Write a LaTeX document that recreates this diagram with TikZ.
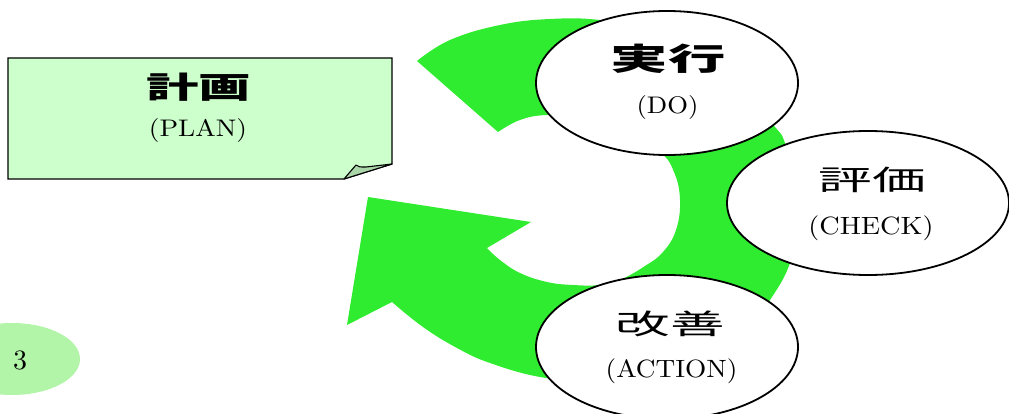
\documentclass[tikz,border=0pt]{standalone}
\usepackage{fontspec}
\usepackage{graphicx}
\usetikzlibrary{shapes.geometric}
\newfontfamily\cjk{Noto Sans CJK JP}
\newfontfamily\latn{lmroman10-regular}[Extension=.otf]
\definecolor{arrowgreen}{RGB}{48,236,48}
\definecolor{plangreen}{RGB}{204,255,204}
\definecolor{foldgreen}{RGB}{170,214,170}
\definecolor{pagegreen}{RGB}{178,245,168}
\begin{document}
\begin{tikzpicture}[x=1pt,y=-1pt,
  stage/.style={ellipse, draw=black, line width=1.8pt, fill=white,
    minimum width=262pt, minimum height=144pt, inner sep=0pt},
  txt/.style={inner sep=0pt}]
\useasboundingbox (0,0) rectangle (1009,414);

% PLAN sheet with folded corner
\filldraw[fill=plangreen, draw=black, line width=1.2pt]
  (8,58) -- (392,58) -- (392,164) -- (344,179) -- (8,179) -- cycle;
\filldraw[fill=foldgreen, draw=black, line width=1.1pt, line join=round]
  (344,179) -- (356,165) .. controls (359,167) .. (366,167) -- (392,164) -- cycle;
\node[txt] (planK) at (198.5,87.5) {\fontsize{30}{32}\selectfont\cjk\bfseries\scalebox{1.75}[1]{計画}};
\node[txt] (planL) at (198,131) {\latn\fontsize{24}{26}\selectfont\scalebox{1.14}[1]{(PLAN)}};

% circular green arrow
\fill[arrowgreen] (417,61) -- (498,132)
  -- plot[smooth, tension=0.7] coordinates {(498,132) (520,120) (547,115) (585,117) (625,130) (660,152) (674,172) (680,200) (676,230) (663,252) (645,266) (620,280) (600,285) (573,285) (547,282) (520,273) (500,260) (487,248)}
  -- (531,222) -- (368,197) -- (347,325) -- (392,302)
  -- plot[smooth, tension=0.7] coordinates {(392,302) (423,327) (457,348) (490,363) (540,377) (590,381) (640,376) (700,358) (745,332) (770,300) (790,263) (798,220) (796,180) (785,143) (775,127) (740,90) (700,55) (650,30) (600,20) (550,19) (500,25) (450,40) (417,61)}
  -- cycle;

% page number
\fill[pagegreen] (12,359) ellipse [x radius=68, y radius=36];
\node[txt] (pagenum) at (20,360) {\latn\fontsize{28}{30}\selectfont 3};

% stages
\node[stage] (do) at (667,83) {};
\node[txt] (doK) at (668,59) {\fontsize{31}{33}\selectfont\cjk\bfseries\scalebox{1.85}[1]{実行}};
\node[txt] (doL) at (667.5,108) {\latn\fontsize{24}{26}\selectfont\scalebox{1.11}[1]{(DO)}};

\node[stage, minimum width=282pt] (check) at (868,203) {};
\node[txt] (checkK) at (872,180) {\fontsize{28}{30}\selectfont\cjk\scalebox{1.92}[1]{評価}};
\node[txt] (checkL) at (871,228) {\latn\fontsize{25}{27}\selectfont\scalebox{1.13}[1]{(CHECK)}};

\node[stage] (act) at (667,347) {};
\node[txt] (actK) at (670,323.5) {\fontsize{28}{30}\selectfont\cjk\scalebox{1.95}[1]{改善}};
\node[txt] (actL) at (671.5,371) {\latn\fontsize{25}{27}\selectfont\scalebox{1.09}[1]{(ACTION)}};
\end{tikzpicture}
\end{document}
